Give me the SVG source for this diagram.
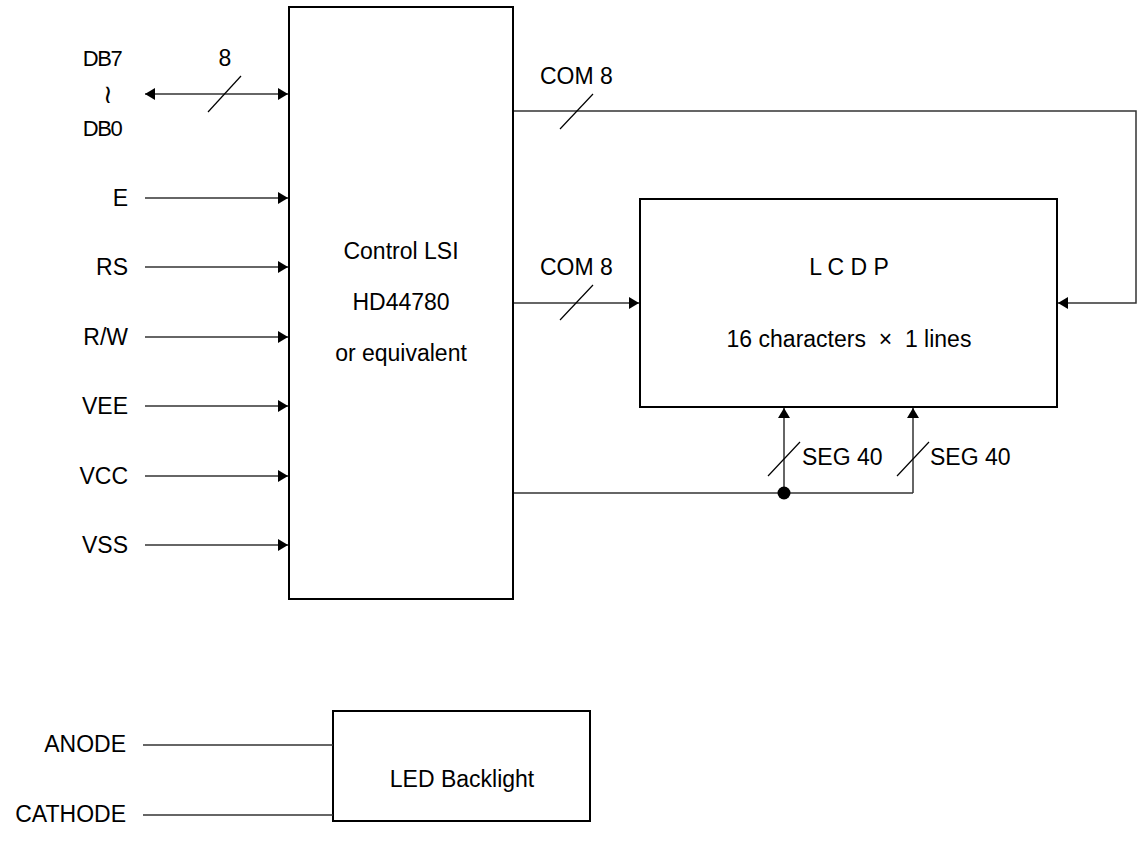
<svg xmlns="http://www.w3.org/2000/svg" width="1138" height="851" viewBox="0 0 1138 851">
<style>
text{font-family:"Liberation Sans",Arial,sans-serif;font-size:23px;fill:#000}
.box{fill:#fff;stroke:#000;stroke-width:2}
.w{fill:none;stroke:#333;stroke-width:1.5}
.s{fill:none;stroke:#000;stroke-width:1.2}
.l{text-anchor:end}
.c{text-anchor:middle}
.db{font-size:22px;letter-spacing:-1.5px}
</style>
<defs>
<marker id="ah" viewBox="0 0 10 12" refX="10" refY="6" markerWidth="10" markerHeight="12" markerUnits="userSpaceOnUse" orient="auto-start-reverse">
<path d="M0,0 L10,6 L0,12 Z" fill="#000"/>
</marker>
</defs>
<rect width="1138" height="851" fill="#fff"/>
<g id="control-lsi">
<rect class="box" x="289" y="7" width="224" height="592"/>
<text class="c" x="401" y="259">Control LSI</text>
<text class="c" x="401" y="310">HD44780</text>
<text class="c" x="401" y="361">or equivalent</text>
</g>
<g id="lcdp">
<rect class="box" x="640" y="199" width="417" height="208"/>
<text class="c" x="849" y="275">L C D P</text>
<text class="c" x="849" y="347" xml:space="preserve">16 characters  ×  1 lines</text>
</g>
<g id="led-backlight">
<rect class="box" x="333" y="711" width="257" height="110"/>
<text class="c" x="462" y="787">LED Backlight</text>
</g>
<g id="labels">
<text class="c db" x="102" y="66">DB7</text>
<text class="c" x="108" y="103" style="font-size:26px">≀</text>
<text class="c db" x="102" y="136">DB0</text>
<text class="c" x="225" y="66">8</text>
<text class="l" x="128" y="206">E</text>
<text class="l" x="128" y="275">RS</text>
<text class="l" x="128" y="345">R/W</text>
<text class="l" x="128" y="414">VEE</text>
<text class="l" x="128" y="484">VCC</text>
<text class="l" x="128" y="553">VSS</text>
<text class="l" x="126" y="752">ANODE</text>
<text class="l" x="126" y="822">CATHODE</text>
<text x="540" y="84">COM 8</text>
<text x="540" y="275">COM 8</text>
<text x="802" y="465">SEG 40</text>
<text x="930" y="465">SEG 40</text>
</g>
<g id="connectors">
<line class="w" x1="145" y1="94" x2="288" y2="94" marker-start="url(#ah)" marker-end="url(#ah)"/>
<line class="s" x1="208" y1="112" x2="241" y2="76"/>
<line class="w" x1="145" y1="198" x2="288" y2="198" marker-end="url(#ah)"/>
<line class="w" x1="145" y1="267" x2="288" y2="267" marker-end="url(#ah)"/>
<line class="w" x1="145" y1="337" x2="288" y2="337" marker-end="url(#ah)"/>
<line class="w" x1="145" y1="406" x2="288" y2="406" marker-end="url(#ah)"/>
<line class="w" x1="145" y1="476" x2="288" y2="476" marker-end="url(#ah)"/>
<line class="w" x1="145" y1="545" x2="288" y2="545" marker-end="url(#ah)"/>
<polyline class="w" points="514,111 1136,111 1136,303 1058,303" marker-end="url(#ah)"/>
<line class="s" x1="560" y1="129" x2="593" y2="94"/>
<line class="w" x1="514" y1="303" x2="639" y2="303" marker-end="url(#ah)"/>
<line class="s" x1="560" y1="320" x2="593" y2="285"/>
<line class="w" x1="514" y1="493" x2="913" y2="493"/>
<line class="w" x1="784" y1="493" x2="784" y2="408" marker-end="url(#ah)"/>
<line class="w" x1="913" y1="493" x2="913" y2="408" marker-end="url(#ah)"/>
<circle cx="784" cy="493" r="6.5" fill="#000"/>
<line class="s" x1="768" y1="476" x2="800" y2="442"/>
<line class="s" x1="897" y1="476" x2="929" y2="442"/>
<line class="w" x1="143" y1="745" x2="333" y2="745"/>
<line class="w" x1="143" y1="815" x2="333" y2="815"/>
</g>
</svg>
